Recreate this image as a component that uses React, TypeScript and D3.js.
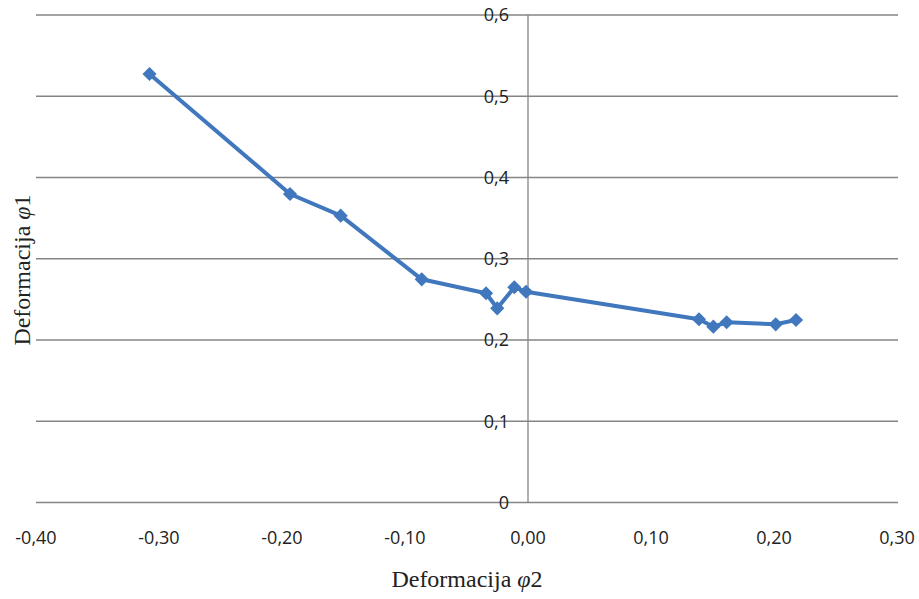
import React from "react";
import * as d3 from "d3";

const phi2: number[] = [-0.3077, -0.1935, -0.1523, -0.0864, -0.0341, -0.025, -0.0111, -0.0016, 0.139, 0.1507, 0.1615, 0.2014, 0.2179];
const phi1: number[] = [0.5274, 0.3797, 0.353, 0.2747, 0.2575, 0.239, 0.2649, 0.2594, 0.2255, 0.2164, 0.2218, 0.2193, 0.2246];
const xTicks: number[] = [-0.4, -0.3, -0.2, -0.1, 0, 0.1, 0.2, 0.3];
const yTicks: number[] = [0, 0.1, 0.2, 0.3, 0.4, 0.5, 0.6];
const xTitle = "Deformacija ";
const yTitle = "Deformacija ";
const xSym = "φ";
const xSub = "2";
const ySub = "1";

export default function App() {
  const W = 919;
  const H = 599;
  const x = d3.scaleLinear().domain([-0.4, 0.3]).range([36, 897]);
  const y = d3.scaleLinear().domain([0, 0.6]).range([502.5, 15]);
  const pts = phi2.map((v, i) => [v, phi1[i]] as [number, number]);
  const line = d3
    .line<[number, number]>()
    .x((d) => x(d[0]))
    .y((d) => y(d[1]));
  const marker = d3.symbol().type(d3.symbolSquare).size(100)() as string;
  const fmtX = (v: number) => (Math.abs(v) < 1e-9 ? "0,00" : d3.format(".2f")(v).replace(".", ",").replace("−", "-"));
  const fmtY = (v: number) => (Math.abs(v) < 1e-9 ? "0" : d3.format(".1f")(v).replace(".", ","));
  const blue = "#4077BD";
  const grid = "#858585";
  const x0 = x(0);
  return (
    <svg width={W} height={H} style={{ position: "absolute", left: 0, top: 0, background: "#fff" }}>
      {yTicks.map((t) => (
        <line key={"g" + t} x1={36} x2={898} y1={y(t)} y2={y(t)} stroke={grid} strokeWidth={1.3} />
      ))}
      <line x1={x0} x2={x0} y1={y(0.6)} y2={y(0)} stroke={grid} strokeWidth={1.3} />
      {yTicks.map((t) => (
        <text
          key={"yt" + t}
          x={x0 - 19}
          y={y(t)}
          dy="0.35em"
          textAnchor="end"
          fontFamily="'Open Sans', sans-serif"
          fontSize={18}
          fill="#222"
        >
          {fmtY(t)}
        </text>
      ))}
      {xTicks.map((t) => (
        <text
          key={"xt" + t}
          x={x(t)}
          y={538}
          dy="0.35em"
          textAnchor="middle"
          fontFamily="'Open Sans', sans-serif"
          fontSize={18}
          fill="#222"
        >
          {fmtX(t)}
        </text>
      ))}
      <path d={line(pts) as string} fill="none" stroke={blue} strokeWidth={4} strokeLinejoin="round" />
      {pts.map((d, i) => (
        <path key={"m" + i} d={marker} transform={`translate(${x(d[0])},${y(d[1])}) rotate(45)`} fill={blue} />
      ))}
      <text x={467} y={587} textAnchor="middle" fontFamily="'Liberation Serif', 'Times New Roman', serif" fontSize={24} fill="#222">
        {xTitle}
        <tspan fontStyle="italic">{xSym}</tspan>
        <tspan>{xSub}</tspan>
      </text>
      <text
        transform={`translate(30,270) rotate(-90)`}
        textAnchor="middle"
        fontFamily="'Liberation Serif', 'Times New Roman', serif"
        fontSize={24}
        fill="#222"
      >
        {yTitle}
        <tspan fontStyle="italic">{xSym}</tspan>
        <tspan>{ySub}</tspan>
      </text>
    </svg>
  );
}
